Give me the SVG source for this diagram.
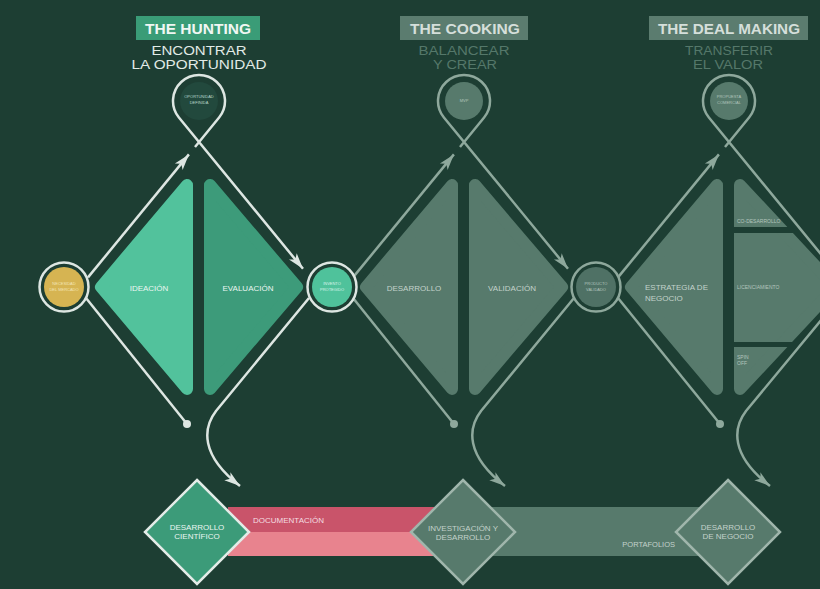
<svg xmlns="http://www.w3.org/2000/svg" width="820" height="589" viewBox="0 0 820 589">
<defs>
<style>
.t{font-family:"Liberation Sans",Arial,sans-serif}
.title{font-family:"Liberation Sans",Arial,sans-serif;font-weight:bold;font-size:15px;text-anchor:middle}
.sub{font-family:"Liberation Sans",Arial,sans-serif;font-size:12.5px;text-anchor:middle}
.sm{font-family:"Liberation Sans",Arial,sans-serif;font-size:8px;text-anchor:middle}
.tiny{font-family:"Liberation Sans",Arial,sans-serif;font-size:4px;text-anchor:middle}
.lw{fill:none;stroke:#dde6e2;stroke-width:2.5}
.lg{fill:none;stroke:#8ea89c;stroke-width:2.5}
.tri1{fill:#52c29c;stroke:#52c29c;stroke-width:12;stroke-linejoin:round}
.tri2{fill:#3d9b7a;stroke:#3d9b7a;stroke-width:12;stroke-linejoin:round}
.trig{fill:#577a6c;stroke:#577a6c;stroke-width:12;stroke-linejoin:round}
</style>
<marker id="aw" viewBox="-17 -6 18 12" markerWidth="18" markerHeight="12" refX="0" refY="0" orient="auto" markerUnits="userSpaceOnUse"><path d="M0,0 L-16,-5 L-12,0 L-16,5 Z" fill="#dde6e2"/></marker>
<marker id="ag" viewBox="-17 -6 18 12" markerWidth="18" markerHeight="12" refX="0" refY="0" orient="auto" markerUnits="userSpaceOnUse"><path d="M0,0 L-16,-5 L-12,0 L-16,5 Z" fill="#8ea89c"/></marker>
</defs>
<rect width="820" height="589" fill="#1d3e33"/>

<!-- headers -->
<g id="header-hunting">
<rect x="136" y="16" width="124" height="24" fill="#3a9c77"/>
<text class="title" x="198" y="34" fill="#f0f7f3" textLength="106" lengthAdjust="spacingAndGlyphs">THE HUNTING</text>
<text class="sub" x="199" y="55" fill="#e2ebe7" textLength="95" lengthAdjust="spacingAndGlyphs">ENCONTRAR</text>
<text class="sub" x="199" y="69" fill="#e2ebe7" textLength="135" lengthAdjust="spacingAndGlyphs">LA OPORTUNIDAD</text>
</g>
<g id="header-cooking">
<rect x="400" y="16" width="128" height="24" fill="#5b7c6f"/>
<text class="title" x="465" y="34" fill="#d5dfda" textLength="110" lengthAdjust="spacingAndGlyphs">THE COOKING</text>
<text class="sub" x="464" y="55" fill="#55786a" textLength="91" lengthAdjust="spacingAndGlyphs">BALANCEAR</text>
<text class="sub" x="465" y="69" fill="#55786a" textLength="64" lengthAdjust="spacingAndGlyphs">Y CREAR</text>
</g>
<g id="header-deal">
<rect x="649" y="16" width="159" height="24" fill="#5b7c6f"/>
<text class="title" x="729" y="34" fill="#d5dfda" textLength="142" lengthAdjust="spacingAndGlyphs">THE DEAL MAKING</text>
<text class="sub" x="729" y="55" fill="#55786a" textLength="88" lengthAdjust="spacingAndGlyphs">TRANSFERIR</text>
<text class="sub" x="728" y="69" fill="#55786a" textLength="70" lengthAdjust="spacingAndGlyphs">EL VALOR</text>
</g>

<!-- bands -->
<g id="band-documentacion">
<rect x="228" y="507" width="214" height="25" fill="#c9546a"/>
<rect x="228" y="532" width="214" height="24" fill="#e8838e"/>
<text class="t" x="253" y="523" font-size="8" fill="#f4dde1">DOCUMENTACIÓN</text>
</g>
<g id="band-portafolios">
<rect x="460" y="507" width="242" height="49" fill="#577a6c"/>
<text class="t" x="675" y="547" font-size="7.5" fill="#c3d2cb" text-anchor="end">PORTAFOLIOS</text>
</g>

<!-- triangles -->
<g id="ideacion">
<polygon class="tri1" points="101,287 187,185 187,389"/>
<text class="sm" x="149" y="291" fill="#eaf6f1">IDEACIÓN</text>
</g>
<g id="evaluacion">
<polygon class="tri2" points="210,185 210,389 297,287"/>
<text class="sm" x="248" y="291" fill="#eaf6f1">EVALUACIÓN</text>
</g>
<g id="desarrollo">
<polygon class="trig" points="366,287 452,185 452,389"/>
<text class="sm" x="414" y="291" fill="#c3d2cb">DESARROLLO</text>
</g>
<g id="validacion">
<polygon class="trig" points="475,185 475,389 562,287"/>
<text class="sm" x="512" y="291" fill="#c3d2cb">VALIDACIÓN</text>
</g>
<g id="estrategia">
<polygon class="trig" points="631,287 717,185 717,389"/>
<text class="t" x="645" y="290" font-size="8" fill="#c3d2cb">ESTRATEGIA DE</text>
<text class="t" x="645" y="301" font-size="8" fill="#c3d2cb">NEGOCIO</text>
</g>
<g id="opciones">
<polygon class="trig" points="740,185 740,389 835,287"/>
<rect x="728" y="227" width="95" height="6" fill="#1d3e33"/>
<rect x="728" y="342" width="95" height="5" fill="#1d3e33"/>
<text class="t" x="737" y="223" font-size="5" fill="#b3c5bd">CO-DESARROLLO</text>
<text class="t" x="737" y="289" font-size="5" fill="#b3c5bd">LICENCIAMIENTO</text>
<text class="t" x="737" y="359" font-size="5" fill="#b3c5bd">SPIN</text>
<text class="t" x="737" y="365" font-size="5" fill="#b3c5bd">OFF</text>
</g>

<!-- connectors -->
<g id="connectors">
<path class="lw" d="M195,147 L219.1,117.5 A26,26 0 1 0 178.9,117.5 L303,268.8" marker-end="url(#aw)"/>
<path class="lw" d="M88,277.4 L188.9,154.4" marker-end="url(#aw)"/>
<path class="lw" d="M86,298 L187,424"/>
<circle cx="187" cy="424" r="4" fill="#dde6e2"/>
<path class="lw" d="M309,298 L216,411 C203,428 200,455 240,486" marker-end="url(#aw)"/>

<path class="lg" d="M460,147 L484.1,117.5 A26,26 0 1 0 443.9,117.5 L568,268.8" marker-end="url(#ag)"/>
<path class="lg" d="M353,277.4 L453.9,154.4" marker-end="url(#ag)"/>
<path class="lg" d="M353,298 L454,424"/>
<circle cx="454" cy="424" r="4" fill="#8ea89c"/>
<path class="lg" d="M574,298 L481,411 C468,428 465,455 505,486" marker-end="url(#ag)"/>

<path class="lg" d="M725,147 L749.1,117.5 A26,26 0 1 0 708.9,117.5 L822,255.4"/>
<path class="lg" d="M618,277.4 L718.9,154.4" marker-end="url(#ag)"/>
<path class="lg" d="M618,298 L720,424"/>
<circle cx="720" cy="424" r="4" fill="#8ea89c"/>
<path class="lg" d="M822,319 L746,411 C733,428 730,455 770,486" marker-end="url(#ag)"/>
</g>

<!-- pins -->
<g id="pin-hunting">
<circle cx="199" cy="101" r="19" fill="#22493d"/>
<text class="tiny" x="199" y="98" fill="#b9d8cc">OPORTUNIDAD</text>
<text class="tiny" x="199" y="104" fill="#b9d8cc">DEFINIDA</text>
</g>
<g id="pin-cooking">
<circle cx="464" cy="101" r="19" fill="#577a6c"/>
<text class="tiny" x="464" y="102" fill="#b3c5bd">MVP</text>
</g>
<g id="pin-deal">
<circle cx="729" cy="101" r="19" fill="#577a6c"/>
<text class="tiny" x="729" y="98" fill="#b3c5bd">PROPUESTA</text>
<text class="tiny" x="729" y="104" fill="#b3c5bd">COMERCIAL</text>
</g>

<!-- circle nodes -->
<g id="node-gold">
<circle cx="64" cy="287" r="24.5" fill="#1d3e33" stroke="#dde6e2" stroke-width="2.5"/>
<circle cx="64" cy="287" r="20" fill="#d6b452"/>
<text class="tiny" x="64" y="285" fill="#f3e6b8">NECESIDAD</text>
<text class="tiny" x="64" y="291" fill="#f3e6b8">DEL MERCADO</text>
</g>
<g id="node-green">
<circle cx="332" cy="287" r="24.5" fill="#1d3e33" stroke="#dde6e2" stroke-width="2.5"/>
<circle cx="332" cy="287" r="20" fill="#4fc29b"/>
<text class="tiny" x="332" y="285" fill="#dcf4ea">INVENTO</text>
<text class="tiny" x="332" y="291" fill="#dcf4ea">PROTEGIDO</text>
</g>
<g id="node-gray">
<circle cx="596" cy="287" r="24.5" fill="#1d3e33" stroke="#8ea89c" stroke-width="2.5"/>
<circle cx="596" cy="287" r="20" fill="#4f7165"/>
<text class="tiny" x="596" y="285" fill="#b3c5bd">PRODUCTO</text>
<text class="tiny" x="596" y="291" fill="#b3c5bd">VALIDADO</text>
</g>

<!-- bottom diamonds -->
<g id="diamond-cientifico">
<polygon points="197,480 249,532 197,584 145,532" fill="#3c9b79" stroke="#e3ece8" stroke-width="2.5"/>
<text class="sm" x="197" y="530" font-size="7.5" fill="#eaf6f1">DESARROLLO</text>
<text class="sm" x="197" y="539" font-size="7.5" fill="#eaf6f1">CIENTÍFICO</text>
</g>
<g id="diamond-id">
<polygon points="463,480 515,532 463,584 411,532" fill="#577a6c" stroke="#a0b6ac" stroke-width="2.5"/>
<text class="sm" x="463" y="531" font-size="7.5" fill="#c3d2cb">INVESTIGACIÓN Y</text>
<text class="sm" x="463" y="540" font-size="7.5" fill="#c3d2cb">DESARROLLO</text>
</g>
<g id="diamond-negocio">
<polygon points="728,480 780,532 728,584 676,532" fill="#577a6c" stroke="#a0b6ac" stroke-width="2.5"/>
<text class="sm" x="728" y="530" font-size="7.5" fill="#c3d2cb">DESARROLLO</text>
<text class="sm" x="728" y="539" font-size="7.5" fill="#c3d2cb">DE NEGOCIO</text>
</g>
</svg>
